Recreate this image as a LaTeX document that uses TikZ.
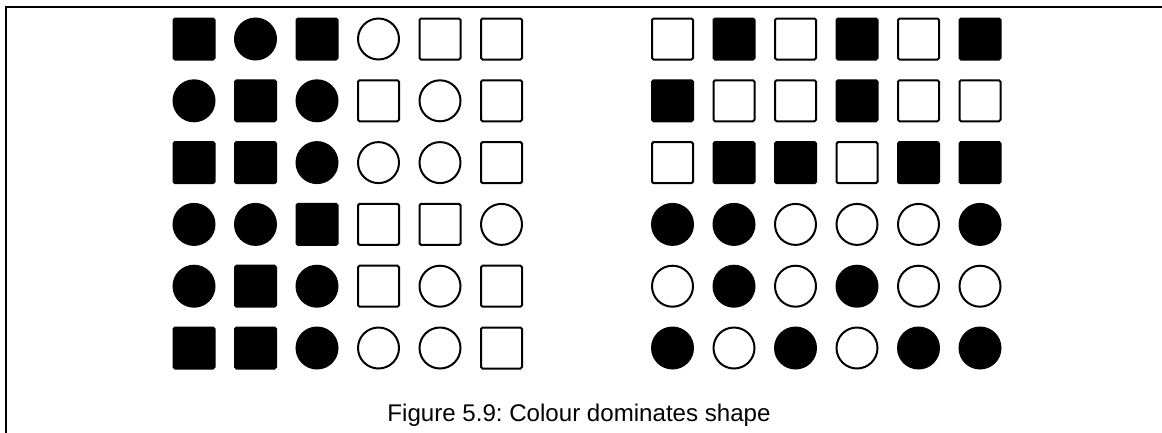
\documentclass[tikz,border=0pt]{standalone}
\usepackage{fontspec}
\setmainfont{Liberation Sans}
\frenchspacing
\begin{document}
\begin{tikzpicture}[x=1pt,y=-1pt,
  shapebase/.style={inner sep=0pt,minimum size=41pt,line width=2pt,draw=black},
  fs/.style={shapebase,rectangle,rounded corners=1.5pt,fill=black},
  os/.style={shapebase,rectangle,rounded corners=1.5pt,fill=white},
  fc/.style={shapebase,circle,fill=black},
  oc/.style={shapebase,circle,fill=white},
  frameline/.style={line width=2pt,line cap=rect},
  caption/.style={font=\fontsize{24.1pt}{29pt}\selectfont,inner sep=0pt,anchor=base}]
\useasboundingbox (0,0) rectangle (1162,432);
\coordinate (ftl) at (6,6.5);
\coordinate (ftr) at (1163,6.5);
\coordinate (fbl) at (6,433);
\draw[frameline] (fbl) -- (ftl) -- (ftr);
% left grid
\foreach \row [count=\r] in {
  {fs,fc,fs,oc,os,os},
  {fc,fs,fc,os,oc,os},
  {fs,fs,fc,oc,oc,os},
  {fc,fc,fs,os,os,oc},
  {fc,fs,fc,os,oc,os},
  {fs,fs,fc,oc,oc,os}}{
  \foreach \cell [count=\c] in \row {
    \node[\cell] (L-\r-\c) at ({194+61.5*(\c-1)},{39+61.8*(\r-1)}) {};
  }
}
% right grid
\foreach \row [count=\r] in {
  {os,fs,os,fs,os,fs},
  {fs,os,os,fs,os,os},
  {os,fs,fs,os,fs,fs},
  {fc,fc,oc,oc,oc,fc},
  {oc,fc,oc,fc,oc,oc},
  {fc,oc,fc,oc,fc,fc}}{
  \foreach \cell [count=\c] in \row {
    \node[\cell] (R-\r-\c) at ({672.5+61.5*(\c-1)},{39+61.8*(\r-1)}) {};
  }
}
\node[caption] (cap) at (579,421) {Figure 5.9: Colour dominates shape};
\end{tikzpicture}
\end{document}
